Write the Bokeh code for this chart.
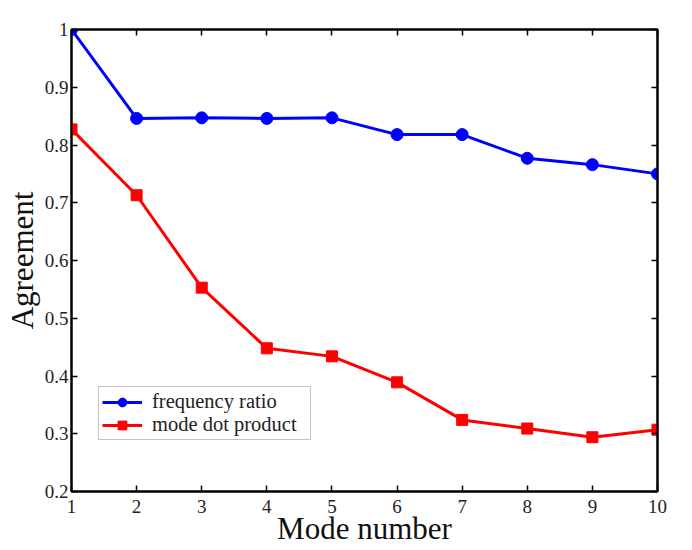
from bokeh.plotting import figure
from bokeh.models import (LinearAxis, FixedTicker, CustomJSTickFormatter, Range1d,
                          Legend, LegendItem)
from bokeh.embed import file_html
from bokeh.resources import INLINE

modes = [1, 2, 3, 4, 5, 6, 7, 8, 9, 10]
frequency_ratio = [1.0, 0.846, 0.847, 0.846, 0.847, 0.818, 0.818, 0.777, 0.766, 0.750]
mode_dot_product = [0.827, 0.713, 0.553, 0.448, 0.434, 0.389, 0.324, 0.309, 0.294, 0.307]
x_ticks = [1, 2, 3, 4, 5, 6, 7, 8, 9, 10]
y_ticks = [0.2, 0.3, 0.4, 0.5, 0.6, 0.7, 0.8, 0.9, 1.0]

FONT = "Liberation Serif"

p = figure(width=692, height=550, output_backend="svg", toolbar_location=None,
           x_range=Range1d(1, 10), y_range=Range1d(0.2, 1.0),
           min_border_left=71, min_border_top=29, min_border_right=35, min_border_bottom=59,
           x_axis_label="Mode number", y_axis_label="Agreement")
p.grid.visible = False
p.outline_line_color = "black"
p.outline_line_width = 2
p.background_fill_color = "white"
p.border_fill_color = "white"

fmt = CustomJSTickFormatter(code="var s = tick.toFixed(1); return s.endsWith('.0') ? s.slice(0, -2) : s;")
blank = CustomJSTickFormatter(code="return '';")

def style_axis(ax, labels=True):
    ax.axis_line_color = "black"
    ax.axis_line_width = 2
    ax.major_tick_in = 6
    ax.major_tick_out = 0
    ax.major_tick_line_width = 1.5
    ax.minor_tick_line_color = None
    ax.major_label_text_font = FONT
    ax.major_label_text_font_size = "19px"
    ax.major_label_text_color = "#222222"
    ax.axis_label_text_font = FONT
    ax.axis_label_text_font_size = "31px"
    ax.axis_label_text_font_style = "normal"
    ax.axis_label_text_color = "#111111"
    if not labels:
        ax.formatter = blank
        ax.major_label_standoff = 0

p.xaxis.ticker = FixedTicker(ticks=x_ticks)
p.yaxis.ticker = FixedTicker(ticks=y_ticks)
p.yaxis.formatter = fmt
style_axis(p.xaxis[0])
style_axis(p.yaxis[0])
p.xaxis.major_label_standoff = 8
p.xaxis.axis_label_standoff = -5
p.yaxis.major_label_standoff = 3
p.yaxis.axis_label_standoff = 2

top = LinearAxis(ticker=FixedTicker(ticks=x_ticks))
right = LinearAxis(ticker=FixedTicker(ticks=y_ticks))
style_axis(top, labels=False)
style_axis(right, labels=False)
p.add_layout(top, "above")
p.add_layout(right, "right")

l1 = p.line(modes, frequency_ratio, line_color="#0000ff", line_width=3)
s1 = p.scatter(modes, frequency_ratio, marker="circle", size=12,
               fill_color="#0000ff", line_color="#0000ff")
l2 = p.line(modes, mode_dot_product, line_color="#ff0000", line_width=3)
s2 = p.scatter(modes, mode_dot_product, marker="square", size=11,
               fill_color="#ff0000", line_color="#ff0000")

legend = Legend(items=[LegendItem(label="frequency ratio", renderers=[l1, s1]),
                       LegendItem(label="mode dot product", renderers=[l2, s2])],
                location=(27, 51))
legend.label_text_font = FONT
legend.label_text_font_size = "20.5px"
legend.label_text_color = "#222222"
legend.border_line_color = "#888888"
legend.border_line_width = 1
legend.background_fill_color = "white"
legend.background_fill_alpha = 1
legend.padding = 3
legend.spacing = 0
legend.margin = 0
legend.glyph_width = 40
legend.glyph_height = 22
legend.label_height = 22
legend.label_width = 155
legend.label_standoff = 10
p.add_layout(legend, "center")

open("out.html", "w").write(file_html(p, INLINE))
